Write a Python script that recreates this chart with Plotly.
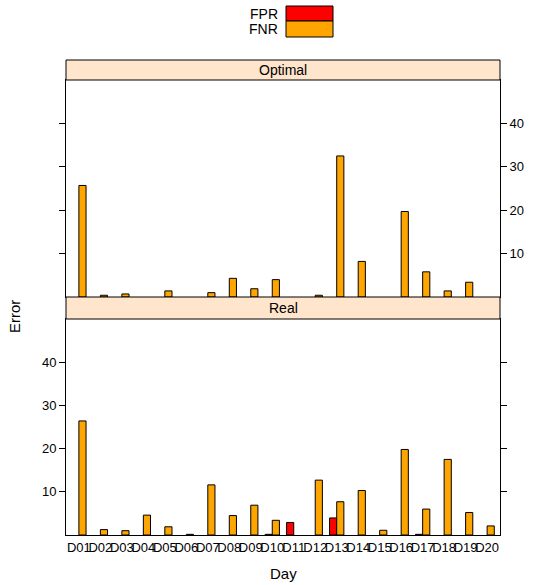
import plotly.graph_objects as go

W, H = 536, 585

days = ["D%02d" % i for i in range(1, 21)]
optimal_fpr = [0] * 20
optimal_fnr = [25.7, 0.4, 0.7, 0, 1.4, 0, 1.0, 4.3, 1.9, 4.0,
               0, 0.4, 32.5, 8.2, 0, 19.7, 5.8, 1.4, 3.4, 0]
real_fpr = [0, 0, 0, 0, 0, 0, 0, 0, 0, 0.15,
            2.9, 0, 3.95, 0, 0, 0, 0.15, 0, 0, 0]
real_fnr = [26.4, 1.25, 1.0, 4.6, 1.9, 0.15, 11.6, 4.5, 6.9, 3.4,
            0, 12.7, 7.7, 10.3, 1.1, 19.8, 6.0, 17.5, 5.2, 2.1]
ytick_vals = [10, 20, 30, 40]
series_names = ["FPR", "FNR"]
series_colors = ["#FF0000", "#FFA500"]
panel_names = ["Optimal", "Real"]

FONT = "Liberation Sans"


def px(x):
    return x / W


def py(y):
    return 1 - y / H


PL, PR = 66, 500
TOP_STRIP = (60, 80)
TOP_PANEL = (80, 297)
BOT_STRIP = (297, 319)
BOT_PANEL = (319, 535)


def line_widths(vals):
    return [1 if v > 0 else 0 for v in vals]


fig = go.Figure()
for name, col, vals in zip(series_names, series_colors, [optimal_fpr, optimal_fnr]):
    fig.add_trace(go.Bar(x=days, y=vals, name=name, marker_color=col,
                         marker_line_color="black", marker_line_width=line_widths(vals),
                         xaxis="x", yaxis="y", showlegend=False))
for name, col, vals in zip(series_names, series_colors, [real_fpr, real_fnr]):
    fig.add_trace(go.Bar(x=days, y=vals, name=name, marker_color=col,
                         marker_line_color="black", marker_line_width=line_widths(vals),
                         xaxis="x2", yaxis="y2", showlegend=False))

common_x = dict(type="category", range=[-0.6, 19.6], showgrid=False,
                showline=True, linecolor="black", linewidth=1, mirror=True,
                ticks="", domain=[px(PL), px(PR)], zeroline=False,
                automargin=False, tickangle=0)
common_y = dict(range=[0, 50], showgrid=False, zeroline=False, showline=True,
                linecolor="black", linewidth=1, mirror="ticks", ticks="outside",
                ticklen=6, tickcolor="black", tickvals=ytick_vals,
                automargin=False,
                tickfont=dict(size=13, color="black", family=FONT))

fig.update_layout(
    width=W, height=H,
    margin=dict(l=0, r=0, t=0, b=0, autoexpand=False),
    paper_bgcolor="white", plot_bgcolor="white",
    barmode="group", bargap=1 / 3, bargroupgap=0,
    font=dict(family=FONT, color="black"),
    xaxis=dict(common_x, anchor="y", showticklabels=False),
    xaxis2=dict(common_x, anchor="y2", showticklabels=True,
                tickfont=dict(size=13, color="black", family=FONT)),
    yaxis=dict(common_y, anchor="x", side="right",
               domain=[py(TOP_PANEL[1]), py(TOP_PANEL[0])]),
    yaxis2=dict(common_y, anchor="x2", side="left",
                domain=[py(BOT_PANEL[1]), py(BOT_PANEL[0])]),
)

shapes = []
annots = []
for (y0, y1), label in zip([TOP_STRIP, BOT_STRIP], panel_names):
    shapes.append(dict(type="rect", xref="paper", yref="paper",
                       x0=px(PL), x1=px(PR), y0=py(y1), y1=py(y0),
                       fillcolor="#FFE5CC", line=dict(color="black", width=1),
                       layer="above"))
    annots.append(dict(x=px((PL + PR) / 2), y=py((y0 + y1) / 2), xref="paper",
                       yref="paper", text=label, showarrow=False,
                       font=dict(size=14, color="black", family=FONT),
                       xanchor="center", yanchor="middle"))

# legend (manual key)
for (y0, y1), name, col in zip([(6, 21), (21, 37)], series_names, series_colors):
    shapes.append(dict(type="rect", xref="paper", yref="paper",
                       x0=px(286), x1=px(333), y0=py(y1), y1=py(y0),
                       fillcolor=col, line=dict(color="black", width=1)))
    annots.append(dict(x=px(280), y=py((y0 + y1) / 2), xref="paper", yref="paper",
                       text=name, showarrow=False, xanchor="right", yanchor="middle",
                       font=dict(size=14, color="black", family=FONT)))

annots.append(dict(x=px(14), y=py(317), xref="paper", yref="paper", text="Error",
                   textangle=-90, showarrow=False, xanchor="center", yanchor="middle",
                   font=dict(size=15, color="black", family=FONT)))
annots.append(dict(x=px(283), y=py(573), xref="paper", yref="paper", text="Day",
                   showarrow=False, xanchor="center", yanchor="middle",
                   font=dict(size=15, color="black", family=FONT)))

fig.update_layout(shapes=shapes, annotations=annots)
fig.write_html("out.html", config={"displayModeBar": False},
               post_script="document.body.style.margin='0px';document.body.style.padding='0px';")
